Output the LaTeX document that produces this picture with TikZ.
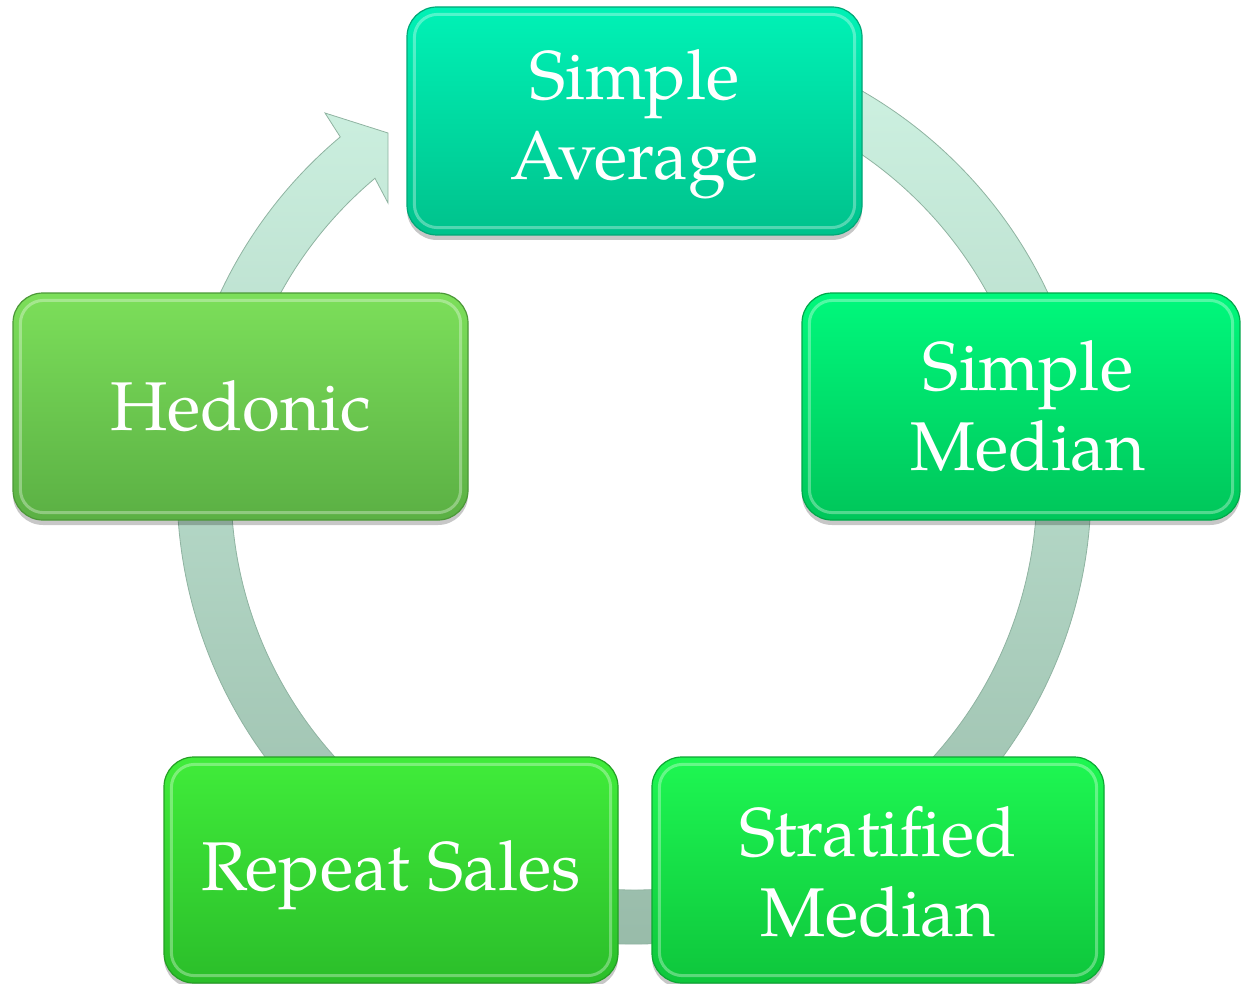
\documentclass[tikz,border=0pt]{standalone}
\usepackage{fontspec}
\setmainfont{TeX Gyre Pagella}
\usetikzlibrary{shadows,calc}
\definecolor{ringTop}{HTML}{D2F6E6}
\definecolor{ringBot}{HTML}{96B9A7}
\definecolor{ringEdge}{HTML}{8FB3A1}
\definecolor{saT}{HTML}{00F2B6}\definecolor{saB}{HTML}{00C28C}\definecolor{saE}{HTML}{00A877}
\definecolor{smT}{HTML}{00F87C}\definecolor{smB}{HTML}{00C65A}\definecolor{smE}{HTML}{00A84A}
\definecolor{stT}{HTML}{1EF752}\definecolor{stB}{HTML}{0EC63C}\definecolor{stE}{HTML}{0CA834}
\definecolor{rsT}{HTML}{40EC3A}\definecolor{rsB}{HTML}{2BBE2A}\definecolor{rsE}{HTML}{24A024}
\definecolor{hdT}{HTML}{7CDF5A}\definecolor{hdB}{HTML}{5BB044}\definecolor{hdE}{HTML}{4C9838}
\newcommand\txtpad[1]{\rule{0pt}{#1}}
\tikzset{
  cbox/.style={rounded corners=30pt, inner sep=0pt, align=center, text=white,
    font=\fontsize{69}{80}\selectfont, line width=1.2pt,
    drop shadow={shadow xshift=0pt, shadow yshift=-5pt, opacity=0.22, fill=black}},
  hl/.style={draw=white, draw opacity=0.32, line width=3pt, rounded corners=23pt},
  ringshape/.style={top color=ringTop, bottom color=ringBot, draw=ringEdge, line width=0.8pt}
}
\begin{document}
\begin{tikzpicture}[x=1pt,y=-1pt]
\useasboundingbox (0,0) rectangle (1241,984);
\coordinate (C) at (634,487);
\coordinate (hb1) at (325,113);
\coordinate (hb2) at (388,133);
\coordinate (hb3) at (388,203);
% ring with arrow head
\shade[ringshape] ($(C)+(-100:457)$) arc[start angle=-100, end angle=230, radius=457]
  -- (hb1) -- (hb2) -- (hb3) -- ($(C)+(230:403)$)
  arc[start angle=230, end angle=-100, radius=403] -- cycle;
% boxes
\node[cbox, minimum width=455pt, minimum height=228pt, top color=saT, bottom color=saB, draw=saE]
  (sa) at (634.5,121) {\txtpad{57pt}Simple\\Average};
\node[cbox, minimum width=438pt, minimum height=227pt, top color=smT, bottom color=smB, draw=smE]
  (sm) at (1021,406.5) {\hspace*{14pt}Simple\\\hspace*{14pt}Median};
\node[cbox, minimum width=452pt, minimum height=226pt, top color=stT, bottom color=stB, draw=stE]
  (st) at (878,870) {\txtpad{55pt}Stratified\\Median};
\node[cbox, minimum width=454pt, minimum height=226pt, top color=rsT, bottom color=rsB, draw=rsE]
  (rs) at (391,870) {\txtpad{60pt}Repeat Sales};
\node[cbox, minimum width=455pt, minimum height=227pt, top color=hdT, bottom color=hdB, draw=hdE]
  (hd) at (240.5,406.5) {Hedonic};
\foreach \b in {sa,sm,st,rs,hd}{
  \draw[hl] ($(\b.south west)+(8,-8)$) rectangle ($(\b.north east)+(-8,8)$);
}
\end{tikzpicture}
\end{document}
